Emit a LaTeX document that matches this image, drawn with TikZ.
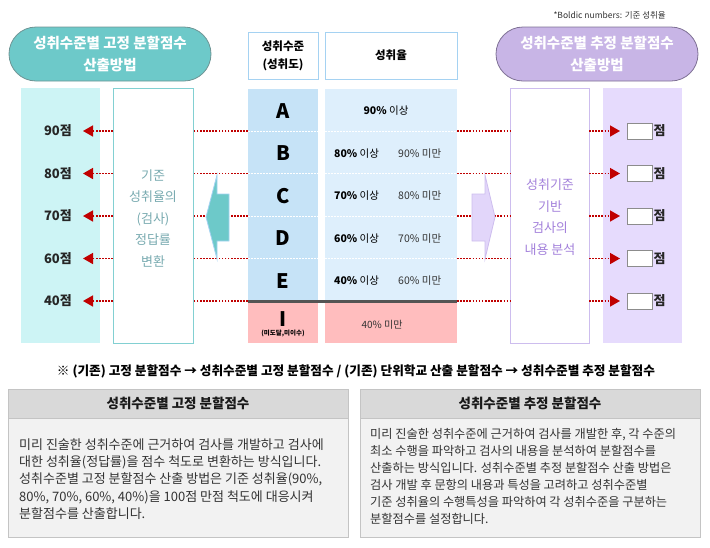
\documentclass[tikz,border=0pt]{standalone}
\usepackage{fontspec}
\setmainfont{Noto Sans CJK KR}
\usetikzlibrary{arrows.meta}
\definecolor{tealpill}{HTML}{6DC9C9}
\definecolor{tealedge}{HTML}{6E9494}
\definecolor{tealcol}{HTML}{CDF4F5}
\definecolor{tealbox}{HTML}{82D0D2}
\definecolor{tealtext}{HTML}{78AAB0}
\definecolor{bluecol}{HTML}{C6E3F7}
\definecolor{lbluecol}{HTML}{DEEFFC}
\definecolor{blueedge}{HTML}{A5D2F2}
\definecolor{pinkcol}{HTML}{FFBDBE}
\definecolor{darkbar}{HTML}{545454}
\definecolor{redl}{HTML}{C00000}
\definecolor{purpill}{HTML}{C8B5E6}
\definecolor{puredge}{HTML}{7E7094}
\definecolor{purcol}{HTML}{E6DBFD}
\definecolor{purbox}{HTML}{CDBDEE}
\definecolor{purtext}{HTML}{A381DB}
\definecolor{purarrow}{HTML}{E2D6FA}
\definecolor{bodytext}{HTML}{333333}
\definecolor{hdrfill}{HTML}{D9D9D9}
\definecolor{bodyfill}{HTML}{F2F2F2}
\definecolor{boxedge}{HTML}{C4C4C4}
\tikzset{
  blk/.style={inner sep=0pt, outer sep=0pt, anchor=north west},
  pill/.style={draw, line width=0.8pt, rounded corners=27pt, minimum width=202pt, minimum height=54pt, inner sep=0pt, align=center, text=white, font=\fontsize{14.5}{22}\selectfont\bfseries},
  hdrbox/.style={blk, draw=blueedge, line width=1pt, fill=white, minimum height=47pt},
  reddot/.style={draw=redl, line width=1.6pt, dash pattern=on 1.6pt off 1.5pt},
  whitedot/.style={draw=white, line width=1pt, dash pattern=on 1.5pt off 1.5pt},
  redtip/.style={-{Triangle[length=10pt,width=11pt]}},
  letter/.style={font=\fontsize{20}{22}\selectfont\bfseries, inner sep=0pt},
  pct/.style={font=\fontsize{10.5}{12}\selectfont, inner sep=0pt, anchor=west},
  scorelab/.style={font=\fontsize{13}{15}\selectfont\bfseries, text=black!85, inner sep=0pt},
  scorebox/.style={draw=black!45, line width=0.8pt, fill=white, minimum width=25pt, minimum height=16pt, inner sep=0pt},
  sidetext/.style={align=center, font=\fontsize{13}{21.5}\selectfont, inner sep=0pt},
  panel/.style={blk, draw=boxedge, line width=0.8pt, fill=bodyfill, minimum width=340pt, minimum height=148pt},
  panelhdr/.style={blk, draw=boxedge, line width=0.8pt, fill=hdrfill, minimum width=340pt, minimum height=29pt, font=\fontsize{13.5}{16}\selectfont\bfseries, text=black!90},
  paneltext/.style={anchor=north west, inner sep=0pt, align=left, text=bodytext}
}
\begin{document}
\begin{tikzpicture}[x=1pt,y=-1pt]
\useasboundingbox (0,0) rectangle (710,547);
% footnote
\node[anchor=east, inner sep=0pt, font=\fontsize{8.5}{10}\selectfont, text=bodytext] (fn) at (666,15) {*Boldic numbers: 기준 성취율};
% pills
\node[pill, fill=tealpill, draw=tealedge] (lpill) at (110,54) {성취수준별 고정 분할점수\\산출방법};
\node[pill, fill=purpill, draw=puredge] (rpill) at (597,54) {성취수준별 추정 분할점수\\산출방법};
% header boxes
\node[hdrbox, minimum width=70pt] (h1) at (248,32) {};
\node[align=center, inner sep=0pt, font=\fontsize{11.5}{18}\selectfont\bfseries] (h1t) at (h1.center) {성취수준\\(성취도)};
\node[hdrbox, minimum width=132pt] (h2) at (325,32) {};
\node[inner sep=0pt, font=\fontsize{11.5}{14}\selectfont\bfseries] (h2t) at (h2.center) {성취율};
% columns
\node[blk, fill=tealcol, minimum width=79pt, minimum height=255pt] (tcol) at (21,88) {};
\node[blk, draw=tealbox, line width=1pt, fill=white, minimum width=80pt, minimum height=255pt] (lbox) at (113,88) {};
\node[blk, fill=bluecol, minimum width=70pt, minimum height=212pt] (bcol) at (248,89) {};
\node[blk, fill=lbluecol, minimum width=132pt, minimum height=212pt] (lcol) at (325,89) {};
\node[blk, fill=pinkcol, minimum width=70pt, minimum height=41pt] (pI) at (248,302) {};
\node[blk, fill=pinkcol, minimum width=132pt, minimum height=41pt] (pP) at (325,302) {};
\node[blk, draw=purbox, line width=1pt, fill=white, minimum width=79pt, minimum height=255pt] (rbox) at (510,88) {};
\node[blk, fill=purcol, minimum width=79pt, minimum height=255pt] (pcol) at (603,88) {};
% white separators
\foreach \y in {131,173.5,216,258.5} {
  \coordinate (s) at (0,\y);
  \draw[whitedot] (bcol.west |- s) -- (bcol.east |- s);
  \draw[whitedot] (lcol.west |- s) -- (lcol.east |- s);
}
\coordinate (barY) at (0,301.5);
\draw[draw=darkbar, line width=3pt] (bcol.west |- barY) -- (lcol.east |- barY);
% rows: red dotted connectors, labels, score boxes
\foreach \y/\lab [count=\i] in {131/90, 173.5/80, 216/70, 258.5/60, 301/40} {
  \coordinate (r\i) at (0,\y);
  \coordinate (tipL\i) at (83,\y);
  \coordinate (tipR\i) at (620,\y);
  \node[scorelab, anchor=east] (L\i) at (72,\y) {\lab{}점};
  \draw[reddot] (bcol.west |- r\i) -- (lbox.east |- r\i);
  \draw[reddot, redtip] (lbox.west |- r\i) -- (tipL\i);
  \draw[reddot] (lcol.east |- r\i) -- (rbox.west |- r\i);
  \draw[reddot, redtip] (rbox.east |- r\i) -- (tipR\i);
  \node[scorebox] (S\i) at (639.5,\y) {};
  \node[scorelab, anchor=west] (P\i) at (653.5,\y) {점};
}
% big arrows
\path[fill=tealpill, draw=blueedge, line width=0.8pt] (206,217) -- (217,175) -- (217,194) -- (229,194) -- (229,241) -- (217,241) -- (217,259) -- cycle;
\path[fill=purarrow, draw=purbox, line width=0.8pt] (495,217) -- (485,175) -- (485,194) -- (472,194) -- (472,241) -- (485,241) -- (485,259) -- cycle;
% side texts
\node[sidetext, text=tealtext] (ltxt) at (153,218) {기준\\성취율의\\(검사)\\정답률\\변환};
\node[sidetext, text=purtext] (rtxt) at (550,217) {성취기준\\기반\\검사의\\내용 분석};
% letters
\node[letter] (A) at (283,111) {A};
\node[letter] (B) at (283,153.5) {B};
\node[letter] (C) at (283,196) {C};
\node[letter] (D) at (283,238.5) {D};
\node[letter] (E) at (283,281) {E};
\node[letter] (I) at (283,319) {I};
\node[inner sep=0pt, font=\fontsize{6.5}{8}\selectfont\bfseries] (Isub) at (283,333.5) {(미도달,미이수)};
% percents
\node[inner sep=0pt, font=\fontsize{10.5}{12}\selectfont] (pA) at (386,111) {\textbf{90\%} 이상};
\foreach \y/\lo/\hi in {153.5/80/90, 196/70/80, 238.5/60/70, 281/40/60} {
  \node[pct] at (334,\y) {\textbf{\lo\%} 이상};
  \node[pct, text=black!80] at (398,\y) {\hi\% 미만};
}
\node[inner sep=0pt, font=\fontsize{10}{12}\selectfont, text=black!80] (pI2) at (382,325) {40\% 미만};
% note line
\node[inner sep=0pt, font=\bfseries] (note) at (356,371) {\resizebox{598pt}{!}{※ (기존) 고정 분할점수 → 성취수준별 고정 분할점수 / (기존) 단위학교 산출 분할점수 → 성취수준별 추정 분할점수}};
% bottom panels
\node[panel] (lp) at (8,389) {};
\node[panelhdr] (lph) at (8,389) {성취수준별 고정 분할점수};
\node[paneltext, font=\fontsize{13}{17.2}\selectfont] (lpt) at (19,438.5) {미리 진술한 성취수준에 근거하여 검사를 개발하고 검사에\\대한 성취율(정답률)을 점수 척도로 변환하는 방식입니다.\\성취수준별 고정 분할점수 산출 방법은 기준 성취율(90\%,\\80\%, 70\%, 60\%, 40\%)을 100점 만점 척도에 대응시켜\\분할점수를 산출합니다.};
\node[panel] (rp) at (360,389) {};
\node[panelhdr] (rph) at (360,389) {성취수준별 추정 분할점수};
\node[paneltext, font=\fontsize{12.2}{17}\selectfont] (rpt) at (370,428.5) {미리 진술한 성취수준에 근거하여 검사를 개발한 후, 각 수준의\\최소 수행을 파악하고 검사의 내용을 분석하여 분할점수를\\산출하는 방식입니다. 성취수준별 추정 분할점수 산출 방법은\\검사 개발 후 문항의 내용과 특성을 고려하고 성취수준별\\기준 성취율의 수행특성을 파악하여 각 성취수준을 구분하는\\분할점수를 설정합니다.};
\end{tikzpicture}
\end{document}
